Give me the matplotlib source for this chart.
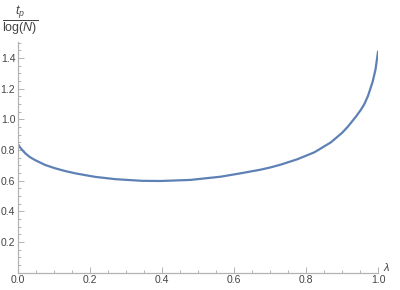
import matplotlib
matplotlib.use("Agg")
import matplotlib.pyplot as plt
from matplotlib.ticker import MultipleLocator, FixedLocator
import matplotlib.transforms as mtransforms

lam = [0.0, 0.005, 0.01, 0.02, 0.033, 0.047, 0.075, 0.103, 0.131, 0.159,
       0.214, 0.27, 0.345, 0.396, 0.479, 0.563, 0.618, 0.674, 0.702, 0.730,
       0.776, 0.823, 0.869, 0.90, 0.916, 0.94, 0.953, 0.962, 0.972, 0.985,
       0.993, 1.0]
tp = [0.838, 0.82, 0.805, 0.779, 0.754, 0.735, 0.703, 0.681, 0.663, 0.648,
      0.625, 0.610, 0.599, 0.598, 0.605, 0.626, 0.648, 0.672, 0.687, 0.705,
      0.740, 0.785, 0.850, 0.912, 0.952, 1.022, 1.065, 1.1, 1.152, 1.245,
      1.325, 1.441]
xticks = [0.0, 0.2, 0.4, 0.6, 0.8, 1.0]
yticks = [0.2, 0.4, 0.6, 0.8, 1.0, 1.2, 1.4]

plt.rcParams['font.family'] = ['Liberation Sans', 'DejaVu Sans']
plt.rcParams['mathtext.fontset'] = 'custom'
plt.rcParams['mathtext.it'] = 'Liberation Sans:italic'
plt.rcParams['mathtext.rm'] = 'Liberation Sans'

fig = plt.figure(figsize=(4.0, 2.9), dpi=100)
ax = fig.add_axes([0.045, 0.06, 0.9, 0.795])
ax.plot(lam, tp, color='#5E81B5', lw=1.6, solid_joinstyle='round')
ax.set_xlim(0, 1.0)
ax.set_ylim(0, 1.505)

axcol = '#b3b3b3'
for s in ['top', 'right']:
    ax.spines[s].set_visible(False)
for s in ['left', 'bottom']:
    ax.spines[s].set_color(axcol)
    ax.spines[s].set_linewidth(0.9)

ax.xaxis.set_major_locator(FixedLocator(xticks))
ax.yaxis.set_major_locator(FixedLocator(yticks))
ax.xaxis.set_minor_locator(MultipleLocator(0.05))
ax.yaxis.set_minor_locator(MultipleLocator(0.05))
ax.set_xticklabels(['%.1f' % v for v in xticks])
ax.set_yticklabels(['%.1f' % v for v in yticks])
ax.tick_params(which='both', direction='in', color=axcol, labelcolor='#444444',
               labelsize=7.5, width=0.7)
ax.tick_params(which='major', length=4, pad=2)
ax.tick_params(which='minor', length=2)

off = mtransforms.offset_copy(ax.get_xaxis_transform(), fig=fig, x=0, y=5.5, units='dots')
ax.text(1.025, 0.0, r'$\lambda$', transform=off,
        ha='center', va='center', fontsize=8, color='#444444')
fig.text(0.05, 0.985, r'$\dfrac{t_p}{\log(N)}$', ha='center', va='top',
         fontsize=9, color='#444444')

fig.savefig('out.png', dpi=100)
